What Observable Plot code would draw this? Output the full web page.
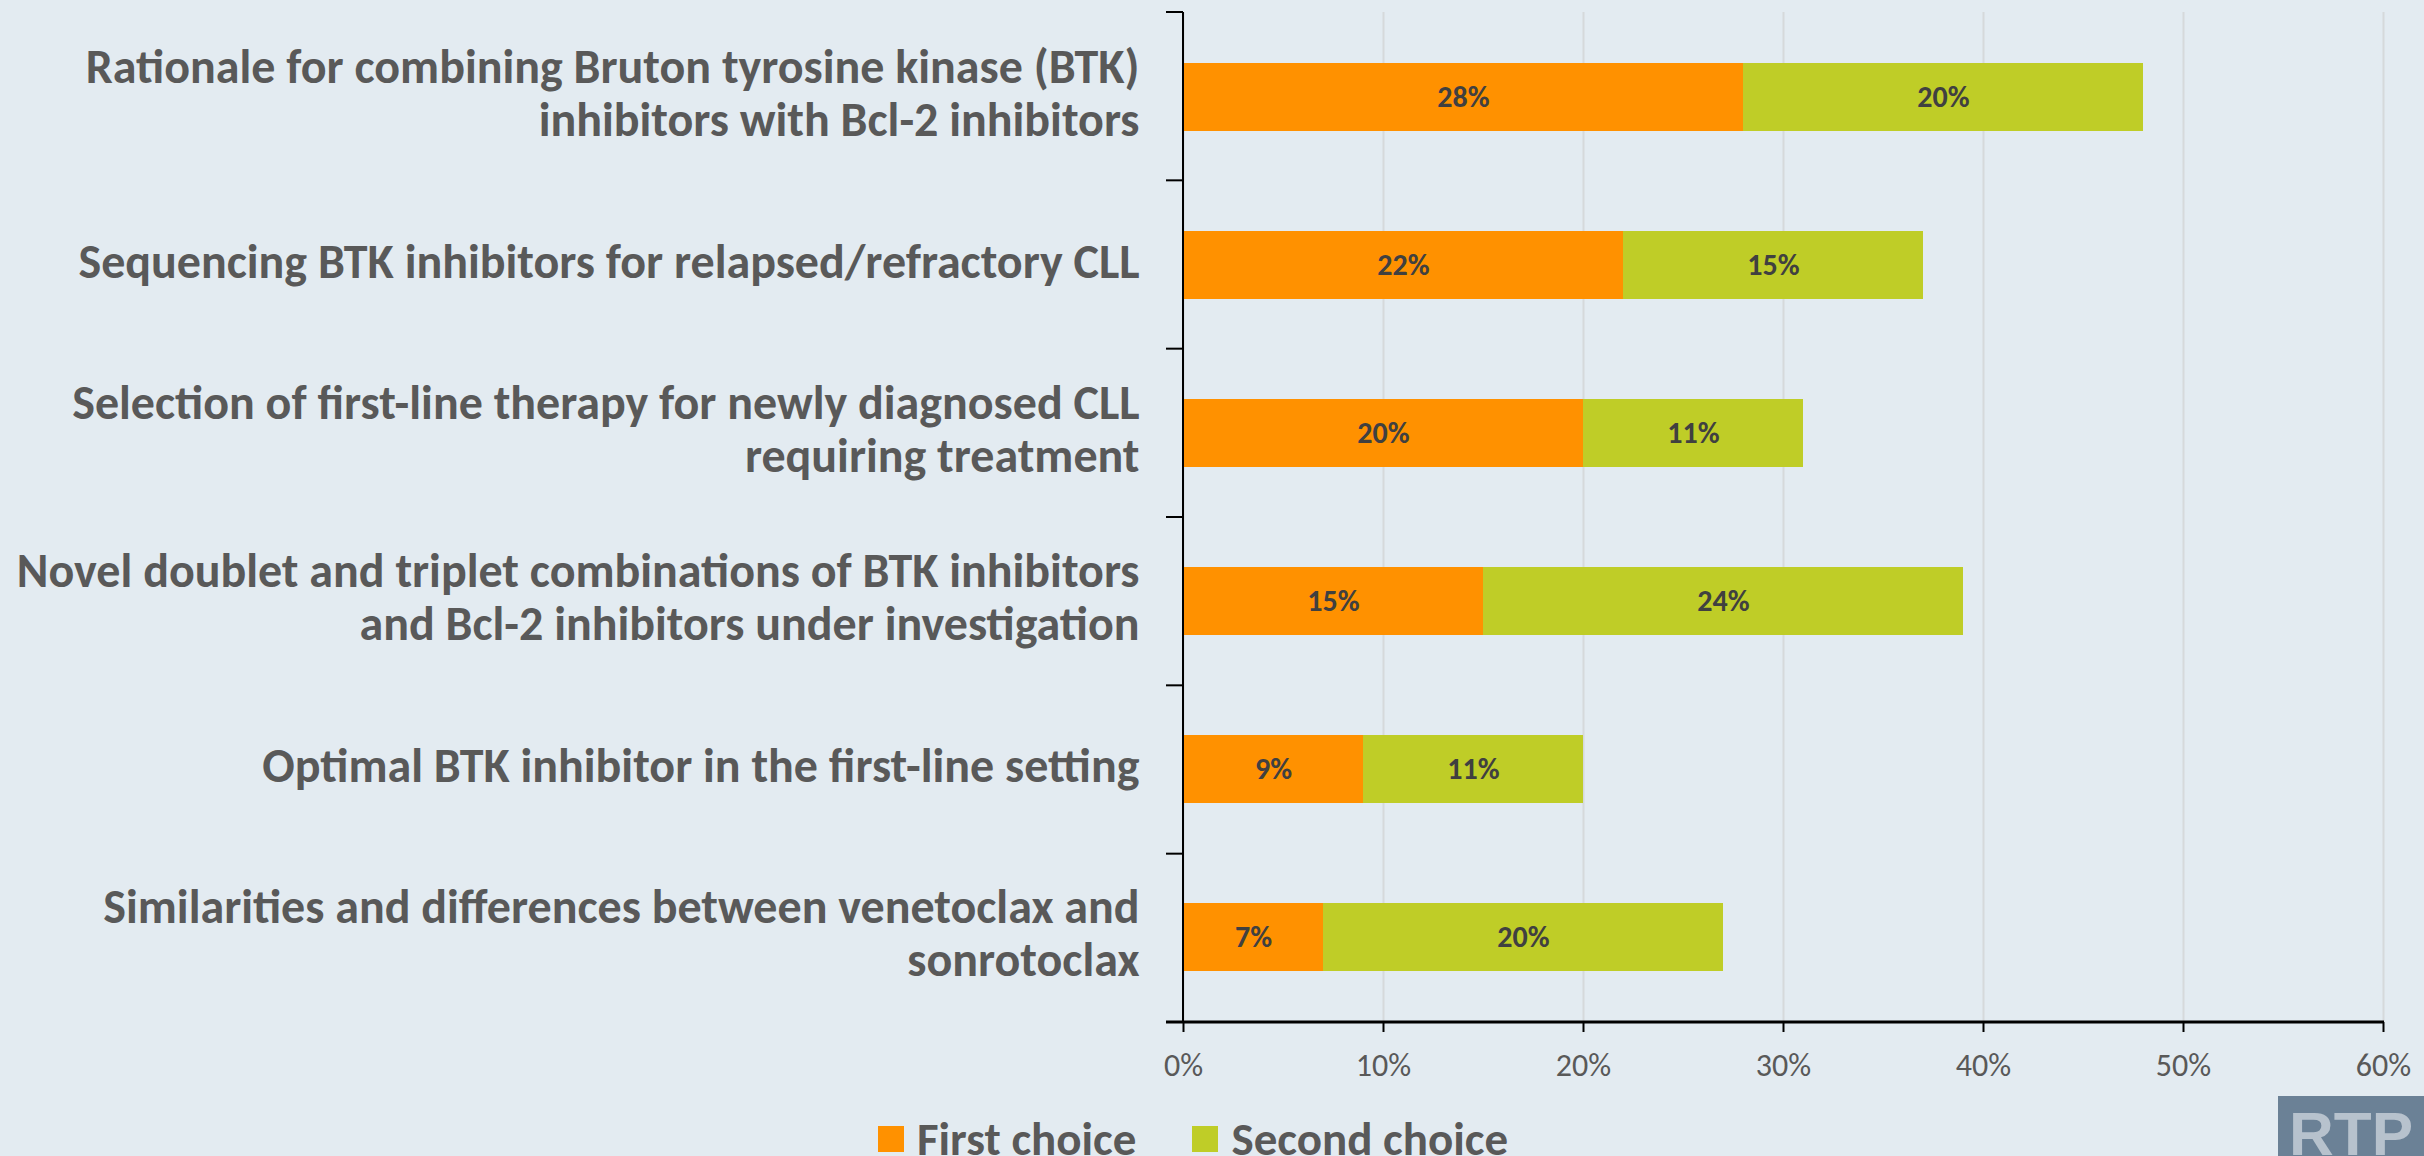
<!DOCTYPE html>
<html><head><meta charset="utf-8">
<script src="https://cdn.jsdelivr.net/npm/d3@7"></script>
<script src="https://cdn.jsdelivr.net/npm/@observablehq/plot@0.6"></script>
<style>
html,body{margin:0;padding:0;background:#e3ebf1;width:2424px;height:1156px;overflow:hidden;}
#chart{position:absolute;left:0;top:0;}
.legend{position:absolute;left:878px;top:1110px;display:flex;align-items:center;font-family:Carlito,"Liberation Sans Narrow",Lato,sans-serif;font-weight:bold;font-size:47px;color:#595959;white-space:nowrap;}
.legend .item{display:flex;align-items:center;margin-right:56px;}
.legend .sw{width:26px;height:26px;margin-right:13px;}
.logo{position:absolute;left:2278px;top:1096px;width:146px;height:60px;background:#6b8196;color:#b7c2cd;font-family:"Liberation Sans Narrow","Liberation Sans",sans-serif;font-weight:bold;font-size:62px;line-height:76px;text-align:center;overflow:hidden;}
</style></head><body>
<div id="chart"></div>
<div class="legend" id="legend"></div>
<div class="logo">RTP</div>
<script>
const topics = [
  "Rationale for combining Bruton tyrosine kinase (BTK)\ninhibitors with Bcl-2 inhibitors",
  "Sequencing BTK inhibitors for relapsed/refractory CLL",
  "Selection of first-line therapy for newly diagnosed CLL\nrequiring treatment",
  "Novel doublet and triplet combinations of BTK inhibitors\nand Bcl-2 inhibitors under investigation",
  "Optimal BTK inhibitor in the first-line setting",
  "Similarities and differences between venetoclax and\nsonrotoclax"
];
const firstChoice = [28, 22, 20, 15, 9, 7];
const secondChoice = [20, 15, 11, 24, 11, 20];
const series = ["First choice", "Second choice"];
const colors = ["#ff9100", "#bfcd27"];
const xTicks = [0, 10, 20, 30, 40, 50, 60];

const rows = [];
topics.forEach((t, i) => {
  rows.push({topic: t, choice: series[0], value: firstChoice[i]});
  rows.push({topic: t, choice: series[1], value: secondChoice[i]});
});

const FONT = 'Carlito,"Liberation Sans Narrow",Lato,sans-serif';

function axisLines(index, scales, values, dimensions) {
  const g = d3.create("svg:g");
  const x0 = scales.x(0);
  const x1 = scales.x(xTicks[xTicks.length - 1]);
  const top = dimensions.marginTop;
  const bottom = dimensions.height - dimensions.marginBottom;
  const step = (bottom - top) / topics.length;
  for (let i = 0; i <= topics.length; i++) {
    const y = top + i * step;
    g.append("line").attr("x1", x0 - 17).attr("x2", x0).attr("y1", y).attr("y2", y)
      .attr("stroke", "#000").attr("stroke-width", 2);
  }
  g.append("line").attr("x1", x0).attr("x2", x0).attr("y1", top).attr("y2", bottom)
    .attr("stroke", "#000").attr("stroke-width", 2);
  g.append("line").attr("x1", x0 - 17).attr("x2", x1 + 1).attr("y1", bottom).attr("y2", bottom)
    .attr("stroke", "#000").attr("stroke-width", 3);
  return g.node();
}

const chart = Plot.plot({
  width: 2424,
  height: 1100,
  marginLeft: 1183,
  marginRight: 41,
  marginTop: 12,
  marginBottom: 78,
  style: {background: "transparent", fontFamily: FONT},
  x: {domain: [0, 60], axis: null},
  y: {domain: topics, paddingInner: 0.596, paddingOuter: 0.298, axis: null},
  color: {domain: series, range: colors},
  marks: [
    Plot.gridX(xTicks, {stroke: "#d6d9db", strokeWidth: 2, strokeOpacity: 1}),
    Plot.barX(rows, Plot.stackX({x: "value", y: "topic", fill: "choice", z: "choice"})),
    Plot.text(rows, Plot.stackX({x: "value", y: "topic", z: "choice", text: d => d.value + "%",
      fontSize: 30, fontWeight: "bold", fill: "#404040"})),
    Plot.axisY({tickSize: 0, tickPadding: 44, fontSize: 48, fontWeight: "bold", fill: "#595959",
      lineHeight: 1.11, textAnchor: "end", label: null, dy: -5}),
    Plot.axisX({ticks: xTicks, tickFormat: d => d + "%", tickSize: 10, tickPadding: 21,
      fontSize: 32, fill: "#595959", stroke: "#000", strokeWidth: 2, color: "#595959", label: null}),
    axisLines
  ]
});
document.getElementById("chart").appendChild(chart);

const leg = document.getElementById("legend");
series.forEach((s, i) => {
  const item = document.createElement("div");
  item.className = "item";
  const sw = document.createElement("div");
  sw.className = "sw";
  sw.style.background = colors[i];
  const tx = document.createElement("span");
  tx.textContent = s;
  item.appendChild(sw);
  item.appendChild(tx);
  leg.appendChild(item);
});
</script>
</body></html>
